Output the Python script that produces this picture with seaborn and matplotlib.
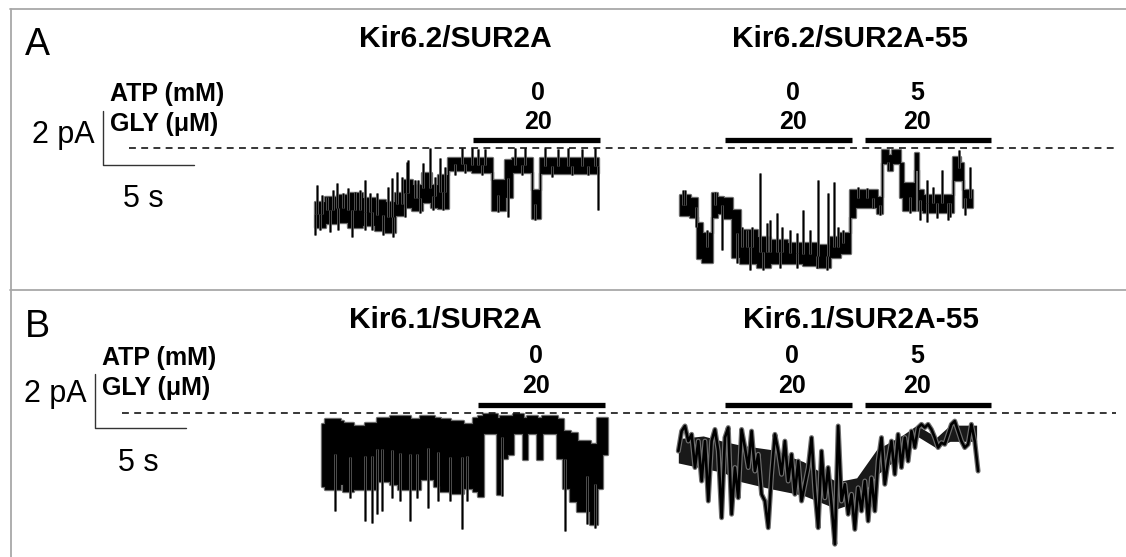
import numpy as np
import pandas as pd
import matplotlib
matplotlib.use("Agg")
import matplotlib.pyplot as plt
from matplotlib.lines import Line2D
import seaborn as sns

# ---------------- data (time in s, current in pA; 0 pA = dashed line) ----------------
# Panel A, Kir6.2/SUR2A  (band segments: edges in s from trace start)
a1_start = 17.31
a1_edges = [0, 0.55, 1.19, 1.83, 2.56, 3.30, 3.85, 4.40, 4.85, 5.31, 5.86, 6.37, 6.74,
            7.33, 8.61, 9.71, 10.44, 10.81, 11.90, 12.36, 15.57]
a1_hi = [-1.99, -1.80, -1.74, -1.68, -1.86, -1.93, -1.99, -1.68, -1.19, -1.37, -0.94, -1.37,
         -1.00, -0.38, -0.38, -1.19, -0.44, -0.38, -1.56, -0.38]
a1_lo = [-2.91, -2.79, -2.73, -2.91, -2.85, -3.04, -3.10, -2.48, -2.17, -2.30, -1.99, -2.17,
         -2.23, -0.81, -0.88, -2.30, -1.80, -0.88, -2.60, -0.94]
a1_spike_t = [0.02, 0.09, 1.19, 1.83, 2.01, 2.75, 3.75, 4.30, 4.49, 5.13, 5.95, 6.32, 6.87,
              8.06, 8.61, 8.97, 9.34, 10.07, 10.62, 10.99, 11.54, 12.09, 12.64, 13.37,
              13.92, 14.65, 15.38, 15.57,
              0.37, 0.64, 1.01, 1.56, 2.20, 2.47, 3.02, 3.39, 4.03, 4.21, 4.76, 5.04,
              5.49, 5.68, 6.59, 7.14,
              0.27, 0.82, 1.28, 2.75, 3.11, 4.95, 5.77, 6.50, 7.05,
              7.69, 8.24, 9.16, 11.36, 13.00, 14.10, 15.02]
a1_spike_i = [-3.22, -1.37, -1.31, -1.49, -3.28, -1.19, -3.22, -3.28, -0.88, -0.44, -0.57,
              0.0, -0.38, 0.0, 0.0, -0.05, -0.05, -2.36, -2.54, 0.0, 0.0, -2.66, 0.0,
              -0.05, 0.0, -0.05, 0.0, -2.30,
              -1.74, -1.80, -1.56, -1.68, -1.62, -1.56, -1.68, -1.68, -1.43, -1.12, -1.06,
              -0.51, -1.19, -1.19, -1.06, -0.69,
              -3.04, -3.10, -3.04, -3.04, -3.04, -2.54, -2.42, -2.30, -2.30,
              -1.00, -0.94, -1.00, -1.00, -1.06, -1.00, -1.00]

# Panel A, Kir6.2/SUR2A-55
a2_start = 37.36
a2_edges = [0, 0.55, 0.92, 1.19, 1.74, 2.01, 2.38, 2.84, 3.30, 4.21, 4.95, 5.86, 6.78, 7.51,
            8.24, 8.79, 9.34, 9.62, 10.81, 11.08, 11.45, 11.63, 12.09, 12.27, 12.91, 13.10,
            13.37, 15.02, 15.38, 15.53, 16.03]
a2_hi = [-1.74, -1.86, -2.79, -3.16, -1.68, -1.80, -1.86, -2.30, -3.04, -3.28, -3.41, -3.53,
         -3.53, -3.59, -3.28, -3.16, -1.56, -1.56, -1.80, -0.07, -0.26, -0.07, -0.57, -1.31,
         -0.20, -1.56, -1.74, -0.32, -0.57, -1.56]
a2_lo = [-2.48, -2.54, -4.09, -4.21, -2.54, -2.42, -2.60, -4.02, -4.27, -4.40, -4.27, -4.27,
         -4.33, -4.40, -4.02, -3.90, -2.54, -2.17, -2.42, -0.57, -0.81, -0.57, -1.80, -2.30,
         -0.81, -2.30, -2.36, -1.19, -1.19, -2.17]
a2_spike_t = [0.27, 0.88, 2.29, 3.85, 3.94, 4.40, 4.95, 5.31, 6.78, 7.51, 7.60, 8.15, 8.48,
              11.45, 13.19, 13.55, 13.55, 14.38, 14.74, 15.35, 15.66, 15.93,
              3.39, 3.66, 4.76, 5.59, 6.04, 6.41, 7.14, 8.70, 8.97,
              3.11, 4.58, 5.49, 6.41, 8.06,
              0.18, 1.47, 1.92, 9.80, 10.26, 10.62, 10.99, 12.64, 13.92, 14.10, 14.84]
a2_spike_i = [-1.56, -2.91, -3.78, -4.52, -2.91, -0.94, -2.67, -2.42, -2.30, -4.46, -1.19,
              -1.68, -1.25, -0.81, -2.67, -1.19, -2.73, -0.81, -2.67, -0.07, -2.48, -0.69,
              -2.91, -3.04, -2.79, -2.91, -3.04, -3.16, -3.04, -2.91, -3.04,
              -4.27, -4.52, -4.46, -4.46, -4.52,
              -1.56, -3.04, -1.62, -1.43, -1.49, -2.23, -2.48, -2.42, -1.43, -2.60, -2.54]

# Panel B, Kir6.1/SUR2A
b1_start = 17.68
b1_edges = [0, 0.18, 1.01, 1.19, 1.74, 2.38, 3.02, 3.75, 4.21, 4.85, 5.40, 6.14, 6.50, 7.05,
            7.78, 8.33, 8.61, 8.88, 9.62, 9.80, 10.16, 10.53, 11.08, 11.26, 11.81, 12.09,
            12.91, 13.28, 13.64, 14.01, 14.74, 15.11, 15.38, 15.66]
b1_hi = [-0.42, -0.24, -0.30, -0.36, -0.48, -0.36, -0.17, -0.11, -0.11, -0.24, -0.11, -0.17,
         -0.24, -0.30, -0.42, -0.17, -0.11, -0.05, -0.17, -0.11, -0.11, -0.05, -0.17, -0.11,
         -0.17, -0.11, -0.24, -0.67, -0.73, -1.04, -1.16, -0.17, -0.17]
b1_lo = [-2.70, -2.83, -2.64, -2.89, -2.83, -2.83, -2.52, -2.64, -2.83, -2.83, -2.46, -2.70,
         -2.89, -2.95, -2.77, -2.89, -3.07, -0.73, -3.01, -1.65, -1.53, -0.73, -1.72, -0.73,
         -1.72, -0.73, -1.65, -2.77, -3.26, -3.63, -4.12, -2.77, -1.53]
b1_spike_t = [0.73, 2.38, 2.75, 3.02, 3.30, 4.85, 5.86, 7.69, 13.37, 14.56, 15.02,
              1.56, 3.85, 4.30, 5.22, 6.41, 7.05, 7.97, 9.89]
b1_spike_i = [-3.63, -4.00, -4.06, -3.75, -3.63, -4.00, -3.51, -4.31, -4.37, -4.12, -4.25,
              -3.14, -3.14, -3.26, -3.14, -3.26, -3.26, -3.26, -3.07]

# Panel B, Kir6.1/SUR2A-55 (sampled every 0.183 s) + its dense core
b2_start = 37.27
b2_dt = 0.183
b2_i = [-1.41, -0.67, -0.48, -1.04, -0.79, -2.02, -1.04, -2.52, -1.04, -3.26,
        -1.04, -0.61, -1.41, -3.88, -0.91, -0.54, -3.75, -2.02, -3.14, -0.61,
        -1.28, -2.02, -0.67, -2.15, -1.53, -3.01, -3.26, -4.25, -2.27, -0.79,
        -1.41, -2.27, -1.04, -2.52, -1.53, -3.01, -1.78, -3.26, -2.64, -2.02,
        -0.91, -2.89, -4.25, -1.41, -3.14, -2.02, -3.38, -4.86, -0.48, -3.26,
        -2.64, -3.75, -3.01, -4.31, -2.77, -3.63, -2.52, -4.00, -2.40, -3.63,
        -1.78, -0.91, -2.64, -1.78, -1.04, -2.27, -0.79, -2.02, -0.91, -1.78,
        -0.67, -1.28, -0.54, -0.42, -0.54, -0.42, -0.61, -0.91, -1.28, -1.10,
        -1.16, -0.79, -0.42, -0.30, -0.67, -1.04, -1.28, -1.16, -0.42, -1.04,
        -2.15]
b2_core_t = [0, 1.37, 2.47, 3.48, 5.04, 6.87, 8.70, 9.80, 10.90, 12.36, 13.10, 14.19, 14.93,
             16.39]
b2_core_hi = [-0.95, -0.85, -1.05, -1.20, -1.35, -1.80, -2.55, -2.40, -1.35, -0.80, -0.45,
              -0.90, -0.45, -0.45]
b2_core_lo = [-1.85, -2.05, -2.20, -2.55, -2.80, -3.05, -3.55, -3.30, -2.30, -1.50, -0.85,
              -1.30, -1.05, -1.05]

# drug application periods (s)
a_bars = [(25.99, 32.97), (39.84, 46.81), (47.53, 54.45)]
b_bars = [(26.26, 33.24), (39.84, 46.81), (47.53, 54.45)]
bar_atp = ["0", "0", "5"]
bar_gly = ["20", "20", "20"]
titles_a = ["Kir6.2/SUR2A", "Kir6.2/SUR2A-55"]
titles_b = ["Kir6.1/SUR2A", "Kir6.1/SUR2A-55"]
scale_t, scale_i = 5, 2

# ---------------- figure ----------------
sns.set_theme(style="white")
plt.rcParams['font.family'] = ['Liberation Sans', 'DejaVu Sans']

W, H = 1126, 557
PX_S, PX_PA = 18.2, 27.0
ZERO_A, ZERO_B = 148, 413
fig = plt.figure(figsize=(W / 100, H / 100), dpi=100)
fig.patch.set_facecolor("white")


def make_ax(zero_px):
    ax = fig.add_axes([0, 0, 1, 1])
    ax.set_xlim(0, W / PX_S)
    ax.set_ylim(-(H - zero_px) / PX_PA, zero_px / PX_PA)
    ax.axis("off")
    ax.patch.set_alpha(0)
    return ax


axA = make_ax(ZERO_A)
axB = make_ax(ZERO_B)


def band(ax, t0, edges, hi, lo, spk_t, spk_i):
    x = t0 + np.asarray(edges, float)
    hi_ = np.append(hi, hi[-1])
    lo_ = np.append(lo, lo[-1])
    ax.fill_between(x, lo_, hi_, step="post", facecolor="#555555",
                    edgecolor="#6a6a6a", lw=2.4)
    ax.fill_between(x, lo_, hi_, step="post", facecolor="black",
                    edgecolor="black", lw=0.6)
    st = np.asarray(spk_t, float)
    idx = np.clip(np.searchsorted(edges, st, side="right") - 1, 0, len(hi) - 1)
    mid = (np.asarray(hi)[idx] + np.asarray(lo)[idx]) / 2
    ax.vlines(t0 + st, mid, spk_i, color="#6a6a6a", lw=2.0)
    ax.vlines(t0 + st, mid, spk_i, color="black", lw=1.0)


band(axA, a1_start, a1_edges, a1_hi, a1_lo, a1_spike_t, a1_spike_i)
band(axA, a2_start, a2_edges, a2_hi, a2_lo, a2_spike_t, a2_spike_i)
band(axB, b1_start, b1_edges, b1_hi, b1_lo, b1_spike_t, b1_spike_i)

df_b2 = pd.DataFrame({"t": b2_start + np.arange(len(b2_i)) * b2_dt, "i": b2_i})
sns.lineplot(data=df_b2, x="t", y="i", ax=axB, color="#6e6e6e", lw=3.6,
             sort=False, estimator=None)
axB.fill_between(b2_start + np.asarray(b2_core_t), b2_core_lo, b2_core_hi,
                 color="black", alpha=0.9, lw=0)
sns.lineplot(data=df_b2, x="t", y="i", ax=axB, color="black", lw=1.9,
             sort=False, estimator=None)
axB.axis("off")
axA.axis("off")

# dashed zero lines
axA.plot([129 / PX_S, 1116 / PX_S], [0, 0], ls=(0, (4.5, 3.5)), lw=1.1, color="black")
axB.plot([122 / PX_S, 1116 / PX_S], [0, 0], ls=(0, (4.5, 3.5)), lw=1.1, color="black")

# drug bars
for ax, bars in ((axA, a_bars), (axB, b_bars)):
    for t1, t2 in bars:
        ax.plot([t1, t2], [0.31, 0.31], lw=3.8, color="black", solid_capstyle="butt")

# scale bars
for ax, cx, cy, zero in ((axA, 103, 165, ZERO_A), (axB, 95, 428, ZERO_B)):
    t0 = cx / PX_S
    i0 = (zero - cy) / PX_PA
    ax.plot([t0, t0, t0 + scale_t], [i0 + scale_i, i0, i0], color="#333333", lw=1.0)


def txt(x, y, s, size, bold=False, ha="left"):
    fig.text(x / W, 1 - y / H, s, fontsize=size, ha=ha, va="baseline",
             fontweight="bold" if bold else "normal", color="black")


# panel A text
txt(25, 55, "A", 27)
txt(455, 47, titles_a[0], 21.5, True, "center")
txt(850, 47, titles_a[1], 21.5, True, "center")
txt(110, 101, "ATP (mM)", 18, True)
txt(110, 131, "GLY (μM)", 18, True)
txt(32, 143, "2 pA", 22)
txt(143, 207, "5 s", 22, ha="center")
for x, a, g in zip([538, 793, 917], bar_atp, bar_gly):
    txt(x, 100, a, 18, True, "center")
    txt(x, 129, g, 18, True, "center")

# panel B text
txt(25, 337, "B", 27)
txt(445, 328, titles_b[0], 21.5, True, "center")
txt(861, 328, titles_b[1], 21.5, True, "center")
txt(102, 365, "ATP (mM)", 18, True)
txt(102, 395, "GLY (μM)", 18, True)
txt(24, 402, "2 pA", 22)
txt(138, 471, "5 s", 22, ha="center")
for x, a, g in zip([536, 792, 917], bar_atp, bar_gly):
    txt(x, 363, a, 18, True, "center")
    txt(x, 393, g, 18, True, "center")

# panel frames
gray = "#a8a8a8"
fig.add_artist(Line2D([10 / W, 1], [1 - 9 / H] * 2, color=gray, lw=1.3))
fig.add_artist(Line2D([10 / W, 1], [1 - 290 / H] * 2, color=gray, lw=1.3))
fig.add_artist(Line2D([10.5 / W] * 2, [0, 1 - 9 / H], color=gray, lw=1.3))

fig.savefig("out.png", dpi=100, facecolor="white")
